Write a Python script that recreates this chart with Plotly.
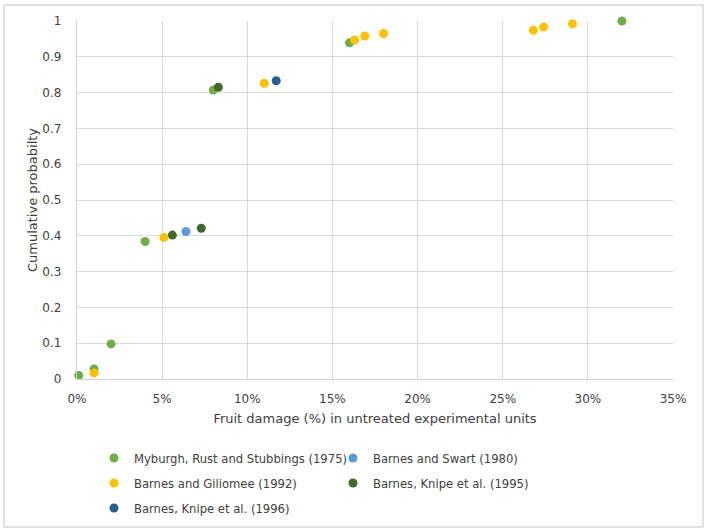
import plotly.graph_objects as go

# Data (fruit damage %, cumulative probability)
myburgh_x = [0.1, 1.0, 2.0, 4.0, 8.0, 16.0, 32.0]
myburgh_y = [0.010, 0.028, 0.098, 0.384, 0.807, 0.939, 1.0]

swart_x = [6.4]
swart_y = [0.412]

giliomee_x = [1.0, 5.1, 11.0, 16.3, 16.9, 18.0, 26.8, 27.4, 29.1]
giliomee_y = [0.017, 0.395, 0.826, 0.947, 0.958, 0.965, 0.974, 0.983, 0.992]

knipe95_x = [5.6, 7.3, 8.3]
knipe95_y = [0.402, 0.421, 0.815]

knipe96_x = [11.7]
knipe96_y = [0.833]

x_ticks = [0, 5, 10, 15, 20, 25, 30, 35]
x_tick_text = ["0%", "5%", "10%", "15%", "20%", "25%", "30%", "35%"]
y_ticks = [0, 0.1, 0.2, 0.3, 0.4, 0.5, 0.6, 0.7, 0.8, 0.9, 1]

series = [
    ("Myburgh, Rust and Stubbings (1975)", myburgh_x, myburgh_y, "#70AD47", "legend"),
    ("Barnes and Swart (1980)", swart_x, swart_y, "#5B9BD5", "legend"),
    ("Barnes and Giliomee (1992)", giliomee_x, giliomee_y, "#FFC000", "legend2"),
    ("Barnes, Knipe et al. (1995)", knipe95_x, knipe95_y, "#43682B", "legend2"),
    ("Barnes, Knipe et al. (1996)", knipe96_x, knipe96_y, "#255E91", "legend3"),
]

fig = go.Figure()
for name, xs, ys, col, lg in series:
    fig.add_trace(go.Scatter(
        x=xs, y=ys, mode="markers", name=name, legend=lg,
        marker=dict(color=col, size=9, line=dict(width=0)),
        cliponaxis=False,
    ))

font_fam = "DejaVu Sans, Verdana, sans-serif"
txt = "#404040"

def leg(yv):
    return dict(
        orientation="h", x=0.0285, y=yv, xanchor="left", yanchor="middle",
        font=dict(size=11.6, color=txt, family=font_fam),
        entrywidth=194, entrywidthmode="pixels",
        itemwidth=30, bgcolor="rgba(0,0,0,0)",
    )

fig.update_layout(
    width=709, height=532,
    margin=dict(l=77, r=36, t=21, b=153, autoexpand=False),
    paper_bgcolor="white", plot_bgcolor="white",
    font=dict(family=font_fam, size=12, color=txt),
    showlegend=True,
    legend=leg(-0.2207),
    legend2=leg(-0.2905),
    legend3=leg(-0.3603),
    xaxis=dict(
        range=[0, 35], tickvals=x_ticks, ticktext=x_tick_text,
        showgrid=True, gridcolor="#D9D9D9", gridwidth=1.3,
        zeroline=False, showline=True, linecolor="#D0D0D0", linewidth=1.3,
        ticks="", ticklabelstandoff=8, tickfont=dict(size=12, color=txt),
        title=dict(text="Fruit damage (%) in untreated experimental units",
                   font=dict(size=13, color=txt), standoff=9),
    ),
    yaxis=dict(
        range=[0, 1], tickvals=y_ticks,
        showgrid=True, gridcolor="#D9D9D9", gridwidth=1.3,
        zeroline=False, showline=True, linecolor="#D0D0D0", linewidth=1.3,
        ticks="", ticklabelstandoff=12, tickfont=dict(size=12, color=txt),
        title=dict(text="Cumulative probabilty",
                   font=dict(size=13, color=txt), standoff=1),
    ),
    shapes=[dict(type="rect", xref="paper", yref="paper",
                 x0=-0.1225, x1=1.0503, y0=-0.4134, y1=1.0447,
                 line=dict(color="#D9D9D9", width=1.5), layer="below")],
)

fig.write_html("out.html", config={"displayModeBar": False},
               post_script="document.body.style.margin='0';")
